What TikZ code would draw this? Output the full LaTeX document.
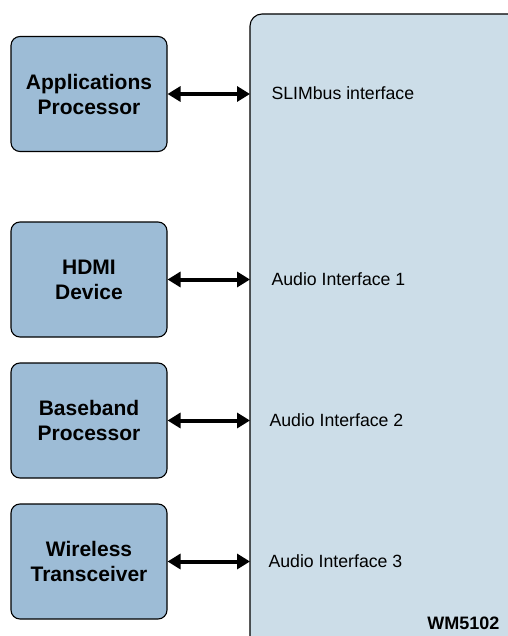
\documentclass[tikz,border=0pt]{standalone}
\usepackage{fontspec}
\setmainfont{Liberation Sans}
\definecolor{hostblue}{HTML}{9DBCD6}
\definecolor{chipblue}{HTML}{CCDDE8}
\tikzset{
	hostbox/.style={draw=black, fill=hostblue, rounded corners=9pt, line width=1.1pt,
		minimum width=156pt, minimum height=115pt, align=center,
		font=\fontsize{21}{25}\selectfont\bfseries},
	portlabel/.style={anchor=west, font=\fontsize{17.7}{20}\selectfont},
	link/.style={{Triangle[length=13pt,width=15pt]}-{Triangle[length=13pt,width=15pt]}, line width=4pt},
}
\usetikzlibrary{arrows.meta}
\begin{document}
\begin{tikzpicture}[x=1pt, y=-1pt]
	\useasboundingbox (0,0) rectangle (507,636);
	% le circuit WM5102
	\draw[fill=chipblue, line width=1.1pt, rounded corners=12pt] (250,14) rectangle (530,660);
	\node[anchor=south east, font=\fontsize{18}{20}\selectfont\bfseries] (chip) at (503,633) {WM5102};
	% les blocs hôtes
	\node[hostbox] (ap) at (89,94) {Applications\\Processor};
	\node[hostbox] (hdmi) at (89,279.5) {HDMI\\Device};
	\node[hostbox] (bb) at (89,420.5) {Baseband\\Processor};
	\node[hostbox] (wl) at (89,561.5) {Wireless\\Transceiver};
	% les interfaces
	\node[portlabel] (slim) at (268,93) {SLIMbus interface};
	\node[portlabel] (aif1) at (268,279) {Audio Interface 1};
	\node[portlabel] (aif2) at (266,420) {Audio Interface 2};
	\node[portlabel] (aif3) at (265,561) {Audio Interface 3};
	% les liaisons
	\draw[link] (ap.east) -- (ap.east -| 250,0);
	\draw[link] (hdmi.east) -- (hdmi.east -| 250,0);
	\draw[link] (bb.east) -- (bb.east -| 250,0);
	\draw[link] (wl.east) -- (wl.east -| 250,0);
\end{tikzpicture}
\end{document}
